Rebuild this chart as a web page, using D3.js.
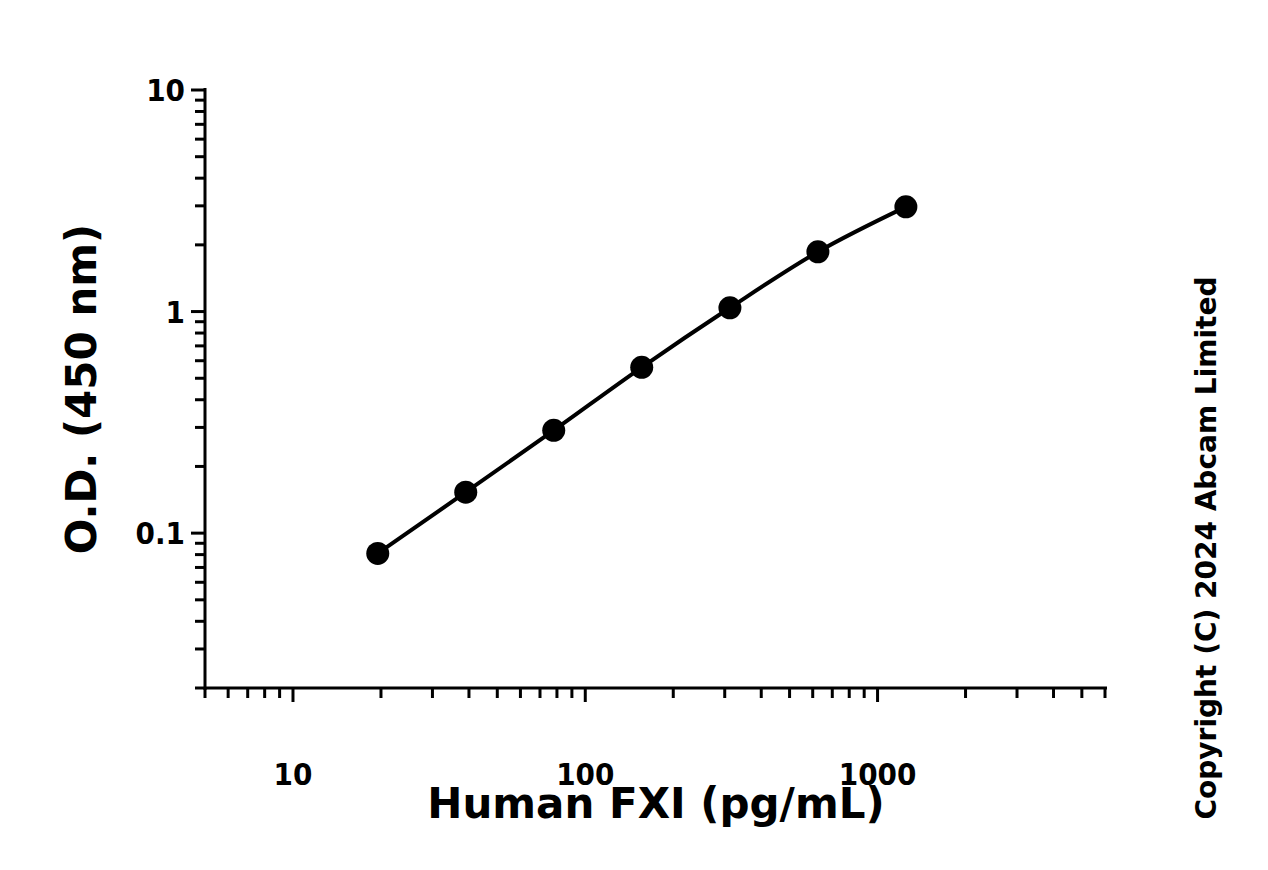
<!DOCTYPE html>
<html><head><meta charset="utf-8">
<script src="https://cdn.jsdelivr.net/npm/d3@7"></script>
<style>body{margin:0;background:#fff}text{font-family:"DejaVu Sans",sans-serif;font-weight:bold}.tick{font-family:"DejaVu Sans Condensed","DejaVu Sans",sans-serif}</style>
</head><body>
<script>
// FXI standard curve
const concentrations = [19.5, 39, 78, 156, 312.5, 625, 1250];
const odValues = [0.081, 0.153, 0.291, 0.56, 1.04, 1.86, 2.97];
const xTickLabels = [10, 100, 1000];
const yTickLabels = [0.1, 1, 10];

const width = 1268, height = 870;
const svg = d3.select('body').append('svg').attr('width', width).attr('height', height);

const x = d3.scaleLog().domain([5, 6000]).range([205, 1105]);
const y = d3.scaleLog().domain([0.02, 10]).range([688, 90]);

const minorX = [];
for (let d = 1; d <= 1000; d *= 10) for (let m = 1; m < 10; m++) { const v = d * m; if (v >= 5 && v <= 6000) minorX.push(v); }
const minorY = [];
for (let d = 0.01; d <= 10; d *= 10) for (let m = 1; m < 10; m++) { const v = +(d * m).toPrecision(3); if (v >= 0.02 && v <= 10) minorY.push(v); }

// x axis
const xg = svg.append('g').attr('transform', `translate(0,688)`);
xg.append('line').attr('x1', 205).attr('x2', 1107).attr('stroke', '#000').attr('stroke-width', 3);
xg.selectAll('.mx').data(minorX).enter().append('line')
  .attr('x1', d => x(d)).attr('x2', d => x(d)).attr('y1', 0)
  .attr('y2', d => xTickLabels.includes(d) ? 14 : 10)
  .attr('stroke', '#000').attr('stroke-width', 3);
xg.selectAll('.xl').data(xTickLabels).enter().append('text').attr('class', 'tick')
  .attr('x', d => x(d)).attr('y', 97).attr('text-anchor', 'middle')
  .attr('font-size', 31).text(d => d);

// y axis
const yg = svg.append('g').attr('transform', `translate(205,0)`);
yg.append('line').attr('y1', 88).attr('y2', 690).attr('stroke', '#000').attr('stroke-width', 3);
yg.selectAll('.my').data(minorY).enter().append('line')
  .attr('y1', d => y(d)).attr('y2', d => y(d)).attr('x1', 0)
  .attr('x2', d => yTickLabels.includes(d) ? -14 : -10)
  .attr('stroke', '#000').attr('stroke-width', 3);
yg.selectAll('.yl').data(yTickLabels).enter().append('text').attr('class', 'tick')
  .attr('x', -20).attr('y', d => y(d) + 11).attr('text-anchor', 'end')
  .attr('font-size', 31).text(d => d);

// curve and points
const pts = concentrations.map((c, i) => [c, odValues[i]]);
svg.append('path').datum(pts)
  .attr('d', d3.line().x(d => x(d[0])).y(d => y(d[1])).curve(d3.curveMonotoneX))
  .attr('fill', 'none').attr('stroke', '#000').attr('stroke-width', 4);
svg.selectAll('.pt').data(pts).enter().append('circle')
  .attr('cx', d => x(d[0])).attr('cy', d => y(d[1])).attr('r', 11.5).attr('fill', '#000');

// titles
svg.append('text').attr('x', 656).attr('y', 818).attr('text-anchor', 'middle')
  .attr('font-size', 42).text('Human FXI (pg/mL)');
svg.append('text').attr('transform', 'translate(96,389) rotate(-90)').attr('text-anchor', 'middle')
  .attr('font-size', 42).text('O.D. (450 nm)');
svg.append('text').attr('transform', 'translate(1216,548) rotate(-90)').attr('text-anchor', 'middle')
  .attr('font-size', 28).text('Copyright (C) 2024 Abcam Limited');
</script>
</body></html>
